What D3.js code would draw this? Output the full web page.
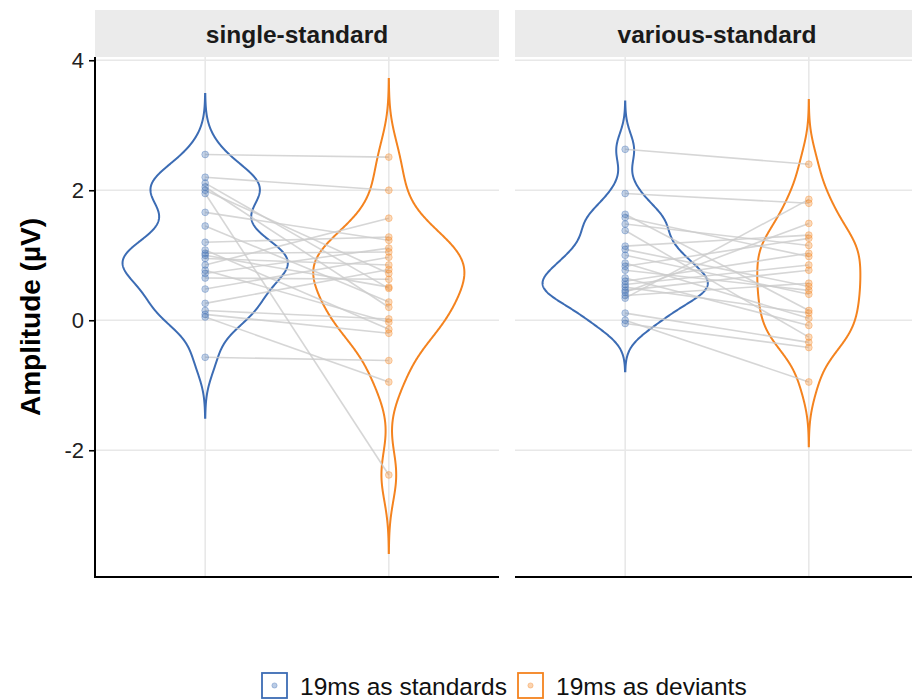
<!DOCTYPE html>
<html>
<head>
<meta charset="utf-8">
<script src="https://cdn.jsdelivr.net/npm/d3@7"></script>
<style>
  html, body { margin: 0; padding: 0; background: #fff; }
  svg { display: block; font-family: "Liberation Sans", Arial, Helvetica, sans-serif; }
</style>
</head>
<body>
<svg id="chart" width="912" height="700"></svg>
<script>
// Facets and the two conditions shown in each
const panels = ["single-standard", "various-standard"];
const categories = ["19ms as standards", "19ms as deviants"];
const colors = ["#3C6CB4", "#F4831F"];

// Per-participant amplitudes (µV); index i is the same participant in both conditions
const singleStandards = [2.55, 2.20, 2.11, 2.05, 2.00, 1.95, 1.66, 1.45, 1.20, 1.08, 1.03, 1.00,
                         0.95, 0.85, 0.77, 0.72, 0.65, 0.48, 0.26, 0.15, 0.09, 0.05, -0.57];
const singleDeviants  = [2.51, 2.00, 0.49, 0.20, 0.72, -2.38, 1.23, 0.28, 1.28, -0.14, 1.05, 0.51,
                         0.85, 1.57, -0.03, 1.11, 0.63, 0.97, 0.78, 0.02, -0.20, -0.95, -0.62];
const variousStandards = [2.63, 1.95, 1.63, 1.58, 1.00, 1.48, 1.38, 1.14, 1.09, 0.88, 0.83, 0.77,
                          0.65, 0.60, 0.55, 0.51, 0.46, 0.43, 0.38, 0.34, 0.11, 0.00, -0.05];
const variousDeviants  = [2.40, 1.80, 0.15, 0.98, 0.40, 1.15, -0.26, 1.31, 0.52, 0.03, 1.26, 0.46,
                          -0.08, 1.03, 0.85, 0.11, 0.77, 1.49, 0.57, 1.86, -0.34, -0.95, -0.42];

// Kernel bandwidth (µV) for each violin: [panel][condition]
const violinBandwidth = [[0.31, 0.40], [0.245, 0.33]];

const yTicks = [-2, 0, 2, 4];
const yDomain = [-3.95, 4.05];

const panelData = [
  [singleStandards, singleDeviants],
  [variousStandards, variousDeviants]
];

// ---- layout ----
const svg = d3.select("#chart");
const plotTop = 57, plotBottom = 577;
const stripTop = 10;
const panelW = 404;
const panelX0 = [95, 515];

const y = d3.scaleLinear().domain(yDomain).range([plotBottom, plotTop]);

// ---- gaussian kernel density, tails extended by 3 bandwidths ----
function kde(v, bw) {
  const lo = d3.min(v) - 3 * bw, hi = d3.max(v) + 3 * bw;
  const n = 512, out = [];
  for (let i = 0; i < n; i++) {
    const t = lo + (hi - lo) * i / (n - 1);
    let s = 0;
    for (const xi of v) {
      const z = (t - xi) / bw;
      s += Math.exp(-0.5 * z * z);
    }
    out.push({ y: t, d: s / (v.length * bw * Math.sqrt(2 * Math.PI)) });
  }
  return out;
}

const densities = panelData.map((p, pi) => p.map((v, ci) => kde(v, violinBandwidth[pi][ci])));

// ---- draw panels ----
panels.forEach((title, pi) => {
  const x0 = panelX0[pi];
  const x = d3.scaleLinear().domain([0.4, 2.6]).range([x0, x0 + panelW]);
  const g = svg.append("g");
  // widths are scaled against the widest density within the panel
  const maxDensity = d3.max(densities[pi], ds => d3.max(ds, e => e.d));

  // strip
  g.append("rect")
    .attr("x", x0).attr("y", stripTop)
    .attr("width", panelW).attr("height", plotTop - stripTop)
    .attr("fill", "#EBEBEB");
  g.append("text")
    .attr("x", x0 + panelW / 2).attr("y", (stripTop + plotTop) / 2 + 1)
    .attr("text-anchor", "middle").attr("dominant-baseline", "central")
    .attr("font-size", 24.5).attr("font-weight", "bold").attr("fill", "#1A1A1A")
    .text(title);

  // grid
  g.selectAll("line.hgrid").data(yTicks).join("line")
    .attr("x1", x0).attr("x2", x0 + panelW)
    .attr("y1", d => y(d)).attr("y2", d => y(d))
    .attr("stroke", "#E8E8E8").attr("stroke-width", 1.6);
  g.selectAll("line.vgrid").data([1, 2]).join("line")
    .attr("x1", d => x(d)).attr("x2", d => x(d))
    .attr("y1", plotTop).attr("y2", plotBottom)
    .attr("stroke", "#E8E8E8").attr("stroke-width", 1.6);

  // violins
  const halfUnit = 0.45;
  densities[pi].forEach((ds, ci) => {
    const cx = ci + 1;
    const right = ds.map(e => [x(cx + halfUnit * e.d / maxDensity), y(e.y)]);
    const left = ds.slice().reverse().map(e => [x(cx - halfUnit * e.d / maxDensity), y(e.y)]);
    g.append("path")
      .attr("d", d3.line()(right.concat(left)) + "Z")
      .attr("fill", "none")
      .attr("stroke", colors[ci]).attr("stroke-width", 2);
  });

  // paired lines
  const [a, b] = panelData[pi];
  g.selectAll("line.pair").data(d3.range(a.length)).join("line")
    .attr("x1", x(1)).attr("x2", x(2))
    .attr("y1", i => y(a[i])).attr("y2", i => y(b[i]))
    .attr("stroke", "#CCCCCC").attr("stroke-opacity", 0.8).attr("stroke-width", 1.6);

  // points
  panelData[pi].forEach((vals, ci) => {
    g.selectAll(null).data(vals).join("circle")
      .attr("cx", x(ci + 1)).attr("cy", d => y(d)).attr("r", 3.4)
      .attr("fill", colors[ci]).attr("fill-opacity", 0.3)
      .attr("stroke", colors[ci]).attr("stroke-opacity", 0.35).attr("stroke-width", 1);
  });

  // bottom axis line
  g.append("line")
    .attr("x1", x0).attr("x2", x0 + panelW)
    .attr("y1", plotBottom).attr("y2", plotBottom)
    .attr("stroke", "#000").attr("stroke-width", 2);
});

// ---- y axis ----
const yAxis = svg.append("g")
  .attr("transform", `translate(${panelX0[0]},0)`)
  .call(d3.axisLeft(y).tickValues(yTicks).tickSize(6).tickPadding(5).tickFormat(d => String(d)));
yAxis.select(".domain").attr("d", `M0,${plotTop}V${plotBottom + 1}`).attr("stroke", "#000").attr("stroke-width", 2);
yAxis.selectAll(".tick line").attr("stroke", "#000").attr("stroke-width", 1.6);
yAxis.selectAll(".tick text")
  .attr("font-size", 22).attr("fill", "#222")
  .attr("font-family", "Liberation Sans, Arial, sans-serif");

svg.append("text")
  .attr("transform", `translate(30,${(plotTop + plotBottom) / 2}) rotate(-90)`)
  .attr("text-anchor", "middle").attr("dominant-baseline", "central")
  .attr("font-size", 28).attr("font-weight", "bold").attr("fill", "#000")
  .text("Amplitude (µV)");

// ---- legend ----
const legendX = [262, 518];
const legendY = 685;
categories.forEach((label, ci) => {
  const lg = svg.append("g").attr("transform", `translate(${legendX[ci]},${legendY})`);
  lg.append("rect")
    .attr("x", 0).attr("y", -12).attr("width", 25).attr("height", 25)
    .attr("fill", "#fff").attr("stroke", colors[ci]).attr("stroke-width", 1.8);
  lg.append("circle")
    .attr("cx", 12.5).attr("cy", 0.5).attr("r", 2.6)
    .attr("fill", colors[ci]).attr("fill-opacity", 0.35)
    .attr("stroke", colors[ci]).attr("stroke-opacity", 0.35);
  lg.append("text")
    .attr("x", 38).attr("y", 1)
    .attr("dominant-baseline", "central")
    .attr("font-size", 24.5).attr("fill", "#111")
    .text(label);
});
</script>
</body>
</html>
